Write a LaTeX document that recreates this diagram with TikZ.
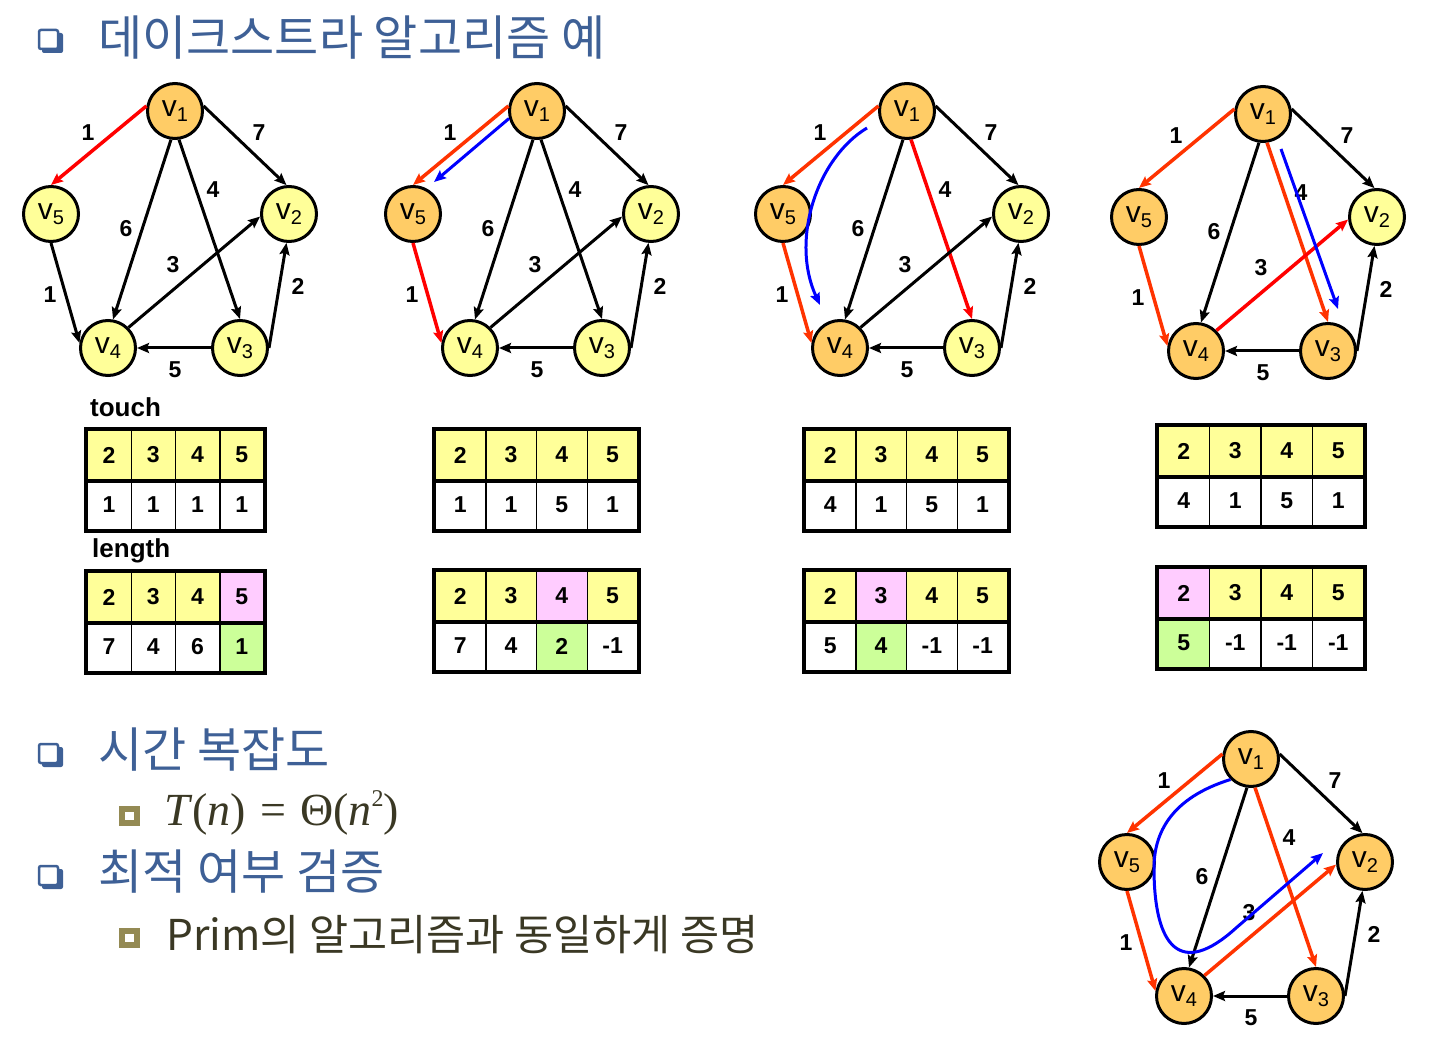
\documentclass[tikz,border=0pt]{standalone}
\usepackage{fontspec}
\setmainfont{Liberation Sans}
\newfontfamily\krfont{Noto Sans CJK KR}
\newfontfamily\mfont{Liberation Serif}
\usetikzlibrary{arrows.meta}

\definecolor{vyel}{RGB}{255,255,153}
\definecolor{vorn}{RGB}{255,204,102}
\definecolor{hotred}{RGB}{255,0,0}
\definecolor{oldred}{RGB}{255,51,0}
\definecolor{pathblue}{RGB}{0,0,255}
\definecolor{cpink}{RGB}{255,204,255}
\definecolor{cgreen}{RGB}{204,255,153}
\definecolor{headblue}{RGB}{62,96,150}
\definecolor{bodytxt}{RGB}{58,56,36}
\definecolor{subbul}{RGB}{148,138,84}

\tikzset{
	vtx/.style={circle, draw, line width=3pt, fill=vyel, minimum size=55pt, inner sep=0pt, font=\fontsize{30}{30}\selectfont},
	done/.style={fill=vorn},
	arc/.style={-{Stealth[length=12pt,width=10pt,inset=2pt]}, line width=3pt},
	hot/.style={hotred, line width=3.5pt},
	old/.style={oldred, line width=3.5pt},
	trace/.style={-{Stealth[length=12pt,width=10pt,inset=2pt]}, pathblue, line width=3pt},
	wt/.style={font=\fontsize{23}{23}\selectfont\bfseries, inner sep=0pt},
	cell/.style={draw, line width=1.5pt, minimum height=50pt, inner sep=0pt, font=\fontsize{23}{23}\selectfont\bfseries},
	head/.style={anchor=west, inner sep=0pt, text=headblue, font=\krfont\fontsize{48}{48}\selectfont},
	n1/.style={}, n2/.style={}, n3/.style={}, n4/.style={}, n5/.style={},
	a15/.style={}, a12/.style={}, a14/.style={}, a13/.style={},
	a54/.style={}, a42/.style={}, a34/.style={}, a32/.style={}
}

% vertex label
\newcommand{\vl}[1]{v\raisebox{-5pt}{\fontsize{20}{20}\selectfont #1}}

% GRAPH (local coordinates of the first picture)
\newcommand{\dgraph}{%
	\node[vtx, n1] (v1) at (175,111) {\vl1};
	\node[vtx, n2] (v2) at (289,214) {\vl2};
	\node[vtx, n3] (v3) at (240,348) {\vl3};
	\node[vtx, n4] (v4) at (108,348) {\vl4};
	\node[vtx, n5] (v5) at (51,214) {\vl5};
	\draw[arc, a15] (v1.170) -- (v5.north);
	\draw[arc, a12] (v1.10) -- (v2.95);
	\draw[arc, a14] (v1.262) -- (v4.80);
	\draw[arc, a13] (v1.278) -- (v3.north);
	\draw[arc, a54] (v5.south) -- (v4.170);
	\draw[arc, a42] (v4.45) -- (v2.185);
	\draw[arc, a34] (v3.west) -- (v4.east);
	\draw[arc, a32] (v3.east) -- (v2.265);
	\node[wt] (w15) at (88,133) {1};
	\node[wt] (w12) at (259,133) {7};
	\node[wt] (w13) at (213,190) {4};
	\node[wt] (w14) at (126,229) {6};
	\node[wt] (w42) at (173,265) {3};
	\node[wt] (w32) at (298,286) {2};
	\node[wt] (w54) at (50,295) {1};
	\node[wt] (w34) at (175,370) {5};
}

% TABLE: name, left, top, cell width, header cells, body cells
\newcommand{\celltab}[6]{%
	\foreach \tv/\tc [count=\ci] in {#5}
		\node[cell, fill=\tc, minimum width=#4pt] (#1h\ci) at ({#2+(\ci-0.5)*#4}, #3+25) {\tv};
	\foreach \tv/\tc [count=\ci] in {#6}
		\node[cell, fill=\tc, minimum width=#4pt] (#1b\ci) at ({#2+(\ci-0.5)*#4}, #3+75) {\tv};
	\draw[line width=4pt] (#1h1.north west) rectangle (#1b4.south east);
	\draw[line width=3.5pt] (#1h1.south west) -- (#1h4.south east);
}

\begin{document}
\begin{tikzpicture}[x=1pt, y=-1pt]

\path [use as bounding box] (0,0) rectangle (1438,1040);

% BULLETS
\foreach \by in {41,755,877} {
	\fill[headblue, rounded corners=2pt] (42,\by-8) rectangle (63,\by+12);
	\filldraw[fill=white, draw=headblue, line width=2.5pt, rounded corners=2pt] (39,\by-11) rectangle (58,\by+8);
}
\foreach \by in {816,938}
	\filldraw[fill=white, draw=subbul, line width=6pt] (122,\by-7) rectangle (137,\by+7);

% TEXT
\node[head] (title) at (98,38) {데이크스트라 알고리즘 예};
\node[head] (sec1) at (98,750) {시간 복잡도};
\node[anchor=west, inner sep=0pt, text=bodytxt, font=\mfont\fontsize{46}{46}\selectfont] (cplx) at (164,813)
	{\textit{T}(\textit{n})\hspace{14pt}=\hspace{14pt}Θ(\textit{n}\raisebox{19pt}{\fontsize{24}{24}\selectfont 2})};
\node[head] (sec2) at (98,872) {최적 여부 검증};
\node[anchor=west, inner sep=0pt, text=bodytxt, font=\krfont\fontsize{42.5}{42.5}\selectfont] (note) at (166,935) {Prim의 알고리즘과 동일하게 증명};

% STEP 1
\begin{scope}[name prefix=g1-, n1/.style=done, a15/.style=hot]
	\dgraph
\end{scope}

% STEP 2
\begin{scope}[shift={(362,0)}, name prefix=g2-, n1/.style=done, n5/.style=done,
	a15/.style=old, a54/.style=hot]
	\dgraph
	\coordinate (be) at (72,182);
	\draw[trace] (v1.195) -- (be);
\end{scope}

% STEP 3
\begin{scope}[shift={(732,0)}, name prefix=g3-, n1/.style=done, n5/.style=done, n4/.style=done,
	a15/.style=old, a54/.style=old, a13/.style=hot]
	\dgraph
	\coordinate (bs) at (135,128);
	\coordinate (be) at (88,305);
	\draw[trace] (bs) .. controls (85,158) and (58,240) .. (be);
\end{scope}

% STEP 4
\begin{scope}[shift={(1088,3)}, name prefix=g4-, n1/.style=done, n5/.style=done, n4/.style=done, n3/.style=done,
	a15/.style=old, a54/.style=old, a13/.style=old, a42/.style=hot]
	\dgraph
	\coordinate (bs) at (193,146);
	\coordinate (be) at (250,306);
	\draw[trace] (bs) -- (be);
\end{scope}

% RESULT
\begin{scope}[shift={(1076,648)}, name prefix=g5-, n1/.style=done, n2/.style=done, n3/.style=done,
	n4/.style=done, n5/.style=done, a15/.style=old, a54/.style=old, a13/.style=old, a42/.style=old]
	\dgraph
	\coordinate (be) at (247,205);
	\draw[trace] (v1.225) .. controls (95,150) and (78,185) .. (78,220)
		.. controls (78,300) and (105,330) .. (160,280) -- (be);
\end{scope}

% TABLES
\node[anchor=base west, inner sep=0pt, font=\fontsize{26}{26}\selectfont\bfseries] (touch) at (90,417) {touch};
\node[anchor=base west, inner sep=0pt, font=\fontsize{26}{26}\selectfont\bfseries] (length) at (92,557) {length};

\celltab{ta}{87}{430}{44.25}{2/vyel,3/vyel,4/vyel,5/vyel}{1/white,1/white,1/white,1/white}
\celltab{la}{87}{572}{44.25}{2/vyel,3/vyel,4/vyel,5/cpink}{7/white,4/white,6/white,1/cgreen}
\celltab{tb}{435}{430}{50.75}{2/vyel,3/vyel,4/vyel,5/vyel}{1/white,1/white,5/white,1/white}
\celltab{lb}{435}{571}{50.75}{2/vyel,3/vyel,4/cpink,5/vyel}{7/white,4/white,2/cgreen,-1/white}
\celltab{tc}{805}{430}{50.75}{2/vyel,3/vyel,4/vyel,5/vyel}{4/white,1/white,5/white,1/white}
\celltab{lc}{805}{571}{50.75}{2/vyel,3/cpink,4/vyel,5/vyel}{5/white,4/cgreen,-1/white,-1/white}
\celltab{td}{1158}{426}{51.5}{2/vyel,3/vyel,4/vyel,5/vyel}{4/white,1/white,5/white,1/white}
\celltab{ld}{1158}{568}{51.5}{2/cpink,3/vyel,4/vyel,5/vyel}{5/cgreen,-1/white,-1/white,-1/white}

\end{tikzpicture}
\end{document}
